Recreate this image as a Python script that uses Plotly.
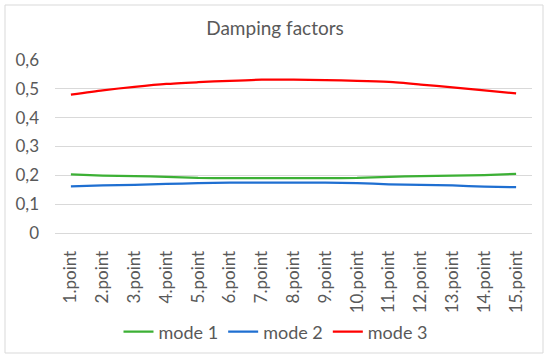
import plotly.graph_objects as go

categories = [f"{i}.point" for i in range(1, 16)]
mode1 = [0.203, 0.199, 0.197, 0.195, 0.191, 0.190, 0.190, 0.190, 0.190, 0.191, 0.195, 0.197, 0.199, 0.201, 0.205]
mode2 = [0.162, 0.165, 0.167, 0.170, 0.173, 0.175, 0.175, 0.175, 0.175, 0.173, 0.169, 0.167, 0.165, 0.161, 0.159]
mode3 = [0.480, 0.495, 0.507, 0.517, 0.523, 0.528, 0.532, 0.532, 0.530, 0.528, 0.524, 0.515, 0.505, 0.495, 0.484]
series_names = ["mode 1", "mode 2", "mode 3"]
colors = ["#3cb035", "#1f6fd1", "#ff0000"]
y_ticks = [0, 0.1, 0.2, 0.3, 0.4, 0.5, 0.6]
y_ticktext = ["0", "0,1", "0,2", "0,3", "0,4", "0,5", "0,6"]

font_family = "Lato, Open Sans, sans-serif"
text_color = "#595959"

L, R, T, B = 55, 18, 60, 126
PW, PH = 550 - L - R, 359 - T - B

fig = go.Figure()
for name, vals, c in zip(series_names, [mode1, mode2, mode3], colors):
    fig.add_trace(go.Scatter(x=categories, y=vals, name=name, mode="lines",
                             line=dict(color=c, width=2.25, shape="spline", smoothing=0.6)))

fig.update_layout(
    width=550, height=359,
    margin=dict(l=L, r=R, t=T, b=B, autoexpand=False),
    paper_bgcolor="white", plot_bgcolor="white",
    font=dict(family=font_family, color=text_color, size=16),
    title=dict(text="Damping factors", x=0.5, xanchor="center", y=1 - 28 / 359, yanchor="middle",
               font=dict(size=19, color=text_color, family=font_family)),
    xaxis=dict(type="category", tickangle=-90, showgrid=False, showline=True,
               linecolor="#d9d9d9", linewidth=1, ticks="", tickfont=dict(size=17),
               range=[-0.5, 14.5], automargin=False, ticklabelstandoff=10),
    yaxis=dict(range=[0, 0.6], tickvals=y_ticks, ticktext=y_ticktext, showgrid=True,
               gridcolor="#d9d9d9", gridwidth=1, zeroline=False, ticks="",
               tickfont=dict(size=17), showline=False, automargin=False,
               ticklabelstandoff=15),
    legend=dict(orientation="h", x=0.5 - 18 / PW, xanchor="center", y=(233 - 332) / PH,
                yanchor="middle", font=dict(size=18), itemwidth=30),
    showlegend=True,
    shapes=[dict(type="rect", xref="paper", yref="paper",
                 x0=(5 - L) / PW, x1=(543 - L) / PW, y0=(233 - 353) / PH, y1=1 + 55 / PH,
                 line=dict(color="#d9d9d9", width=1), fillcolor="rgba(0,0,0,0)", layer="below")],
)

fig.write_html("out.html", config={"displayModeBar": False},
               post_script="document.body.style.margin='0px';")
